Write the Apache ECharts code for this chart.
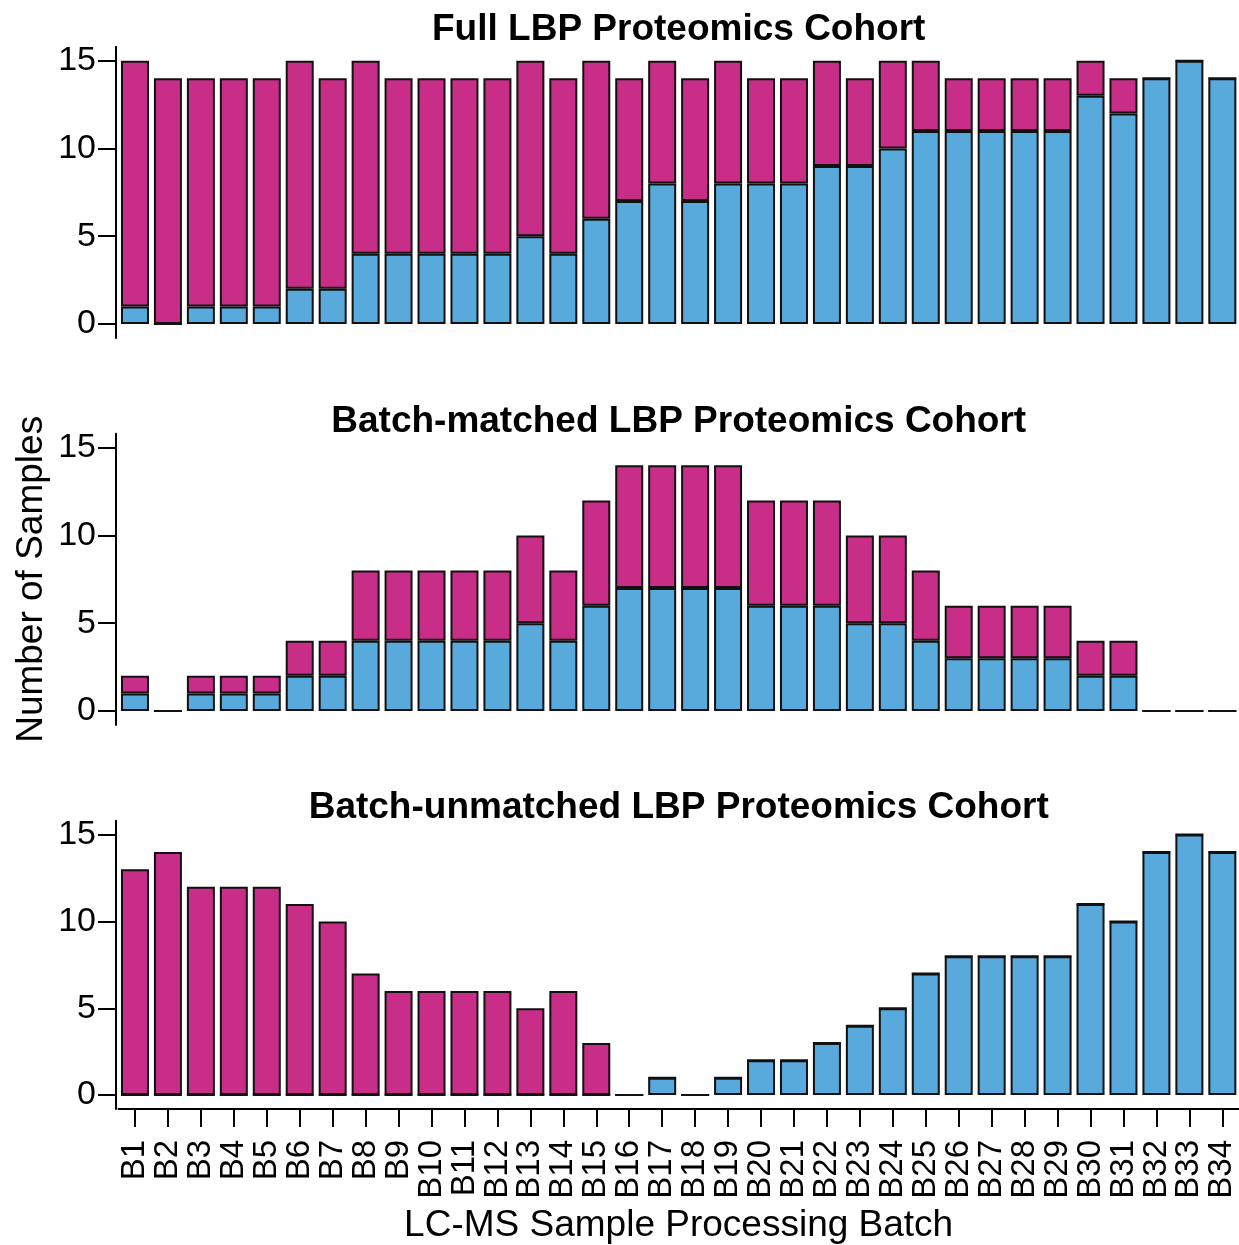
<!DOCTYPE html>
<html>
<head>
<meta charset="utf-8">
<script src="https://cdn.jsdelivr.net/npm/echarts@6/dist/echarts.min.js"></script>
<style>
html,body{margin:0;padding:0;background:#fff;}
#chart{width:1239px;height:1245px;}
</style>
</head>
<body>
<div id="chart"></div>
<script>
const batches = ['B1','B2','B3','B4','B5','B6','B7','B8','B9','B10','B11','B12','B13','B14','B15','B16','B17','B18','B19','B20','B21','B22','B23','B24','B25','B26','B27','B28','B29','B30','B31','B32','B33','B34'];

const panelTitles = ['Full LBP Proteomics Cohort','Batch-matched LBP Proteomics Cohort','Batch-unmatched LBP Proteomics Cohort'];

const fullBlue = [1,0,1,1,1,2,2,4,4,4,4,4,5,4,6,7,8,7,8,8,8,9,9,10,11,11,11,11,11,13,12,14,15,14];
const fullPink = [14,14,13,13,13,13,12,11,10,10,10,10,10,10,9,7,7,7,7,6,6,6,5,5,4,3,3,3,3,2,2,0,0,0];

const matchedBlue = [1,0,1,1,1,2,2,4,4,4,4,4,5,4,6,7,7,7,7,6,6,6,5,5,4,3,3,3,3,2,2,0,0,0];
const matchedPink = [1,0,1,1,1,2,2,4,4,4,4,4,5,4,6,7,7,7,7,6,6,6,5,5,4,3,3,3,3,2,2,0,0,0];

const unmatchedBlue = [0,0,0,0,0,0,0,0,0,0,0,0,0,0,0,0,1,0,1,2,2,3,4,5,7,8,8,8,8,11,10,14,15,14];
const unmatchedPink = [13,14,12,12,12,11,10,7,6,6,6,6,5,6,3,0,0,0,0,0,0,0,0,0,0,0,0,0,0,0,0,0,0,0];

const yTicks = [0,5,10,15];
const yAxisTitle = 'Number of Samples';
const xAxisTitle = 'LC-MS Sample Processing Batch';

const BLUE = '#58A9DC';
const PINK = '#C82E88';
const FONT = '"Liberation Sans", Arial, Helvetica, sans-serif';

const panelData = [[fullBlue, fullPink],[matchedBlue, matchedPink],[unmatchedBlue, unmatchedPink]];
const gridTops = [46.7, 433.7, 820.7];
const gridH = 291.3;
const titleTops = [11.5, 403.5, 789];
const plotCenter = 678.7;

const grids = gridTops.map(t => ({left:118.5, right:0.2, top:t, height:gridH, containLabel:false}));

const xAxes = gridTops.map((t,i) => {
  const last = i === 2;
  return {
    type:'category', gridIndex:i, data:batches,
    show:true,
    axisLine:{show:last, onZero:false, lineStyle:{color:'#000', width:2}},
    axisTick:{show:last, alignWithLabel:true, length:18, lineStyle:{color:'#000', width:2}},
    axisLabel:{show:last, interval:0, rotate:90, fontSize:33, fontFamily:FONT, color:'#000', margin:31},
    name: last ? xAxisTitle : '',
    nameLocation:'middle', nameGap:98, nameMoveOverlap:false,
    nameTextStyle:{fontSize:37, fontFamily:FONT, color:'#000', lineHeight:37},
    splitLine:{show:false}
  };
});

const yAxes = gridTops.map((t,i) => ({
  type:'value', gridIndex:i, min:-0.8, max:15.8, offset:2.5,
  axisLine:{show:true, lineStyle:{color:'#000', width:2}},
  axisTick:{show:true, length:18, customValues:yTicks, lineStyle:{color:'#000', width:2}},
  axisLabel:{customValues:yTicks, fontSize:34, fontFamily:FONT, color:'#000', margin:20},
  splitLine:{show:false},
  name: i === 1 ? yAxisTitle : '',
  nameLocation:'middle', nameGap:66, nameMoveOverlap:false,
  nameTextStyle:{fontSize:37, fontFamily:FONT, color:'#000', lineHeight:37}
}));

const series = [];
panelData.forEach((pair, i) => {
  series.push({
    type:'bar', name:'blue'+i, xAxisIndex:i, yAxisIndex:i, stack:'s'+i, data:pair[0],
    barWidth:28, itemStyle:{color:BLUE, borderColor:'#111', borderWidth:2}, animation:false, silent:true
  });
  series.push({
    type:'bar', name:'pink'+i, xAxisIndex:i, yAxisIndex:i, stack:'s'+i, data:pair[1],
    barWidth:28, itemStyle:{color:PINK, borderColor:'#111', borderWidth:2}, animation:false, silent:true
  });
});

const titles = panelTitles.map((txt,i) => ({
  text:txt, left:plotCenter, top:titleTops[i], textAlign:'center', padding:0,
  textStyle:{fontSize:37, fontWeight:'bold', fontFamily:FONT, color:'#000', lineHeight:37}
}));

const chart = echarts.init(document.getElementById('chart'), null, {renderer:'canvas'});
chart.setOption({
  backgroundColor:'#fff',
  animation:false,
  title:titles,
  grid:grids,
  xAxis:xAxes,
  yAxis:yAxes,
  series:series
});
</script>
</body>
</html>
